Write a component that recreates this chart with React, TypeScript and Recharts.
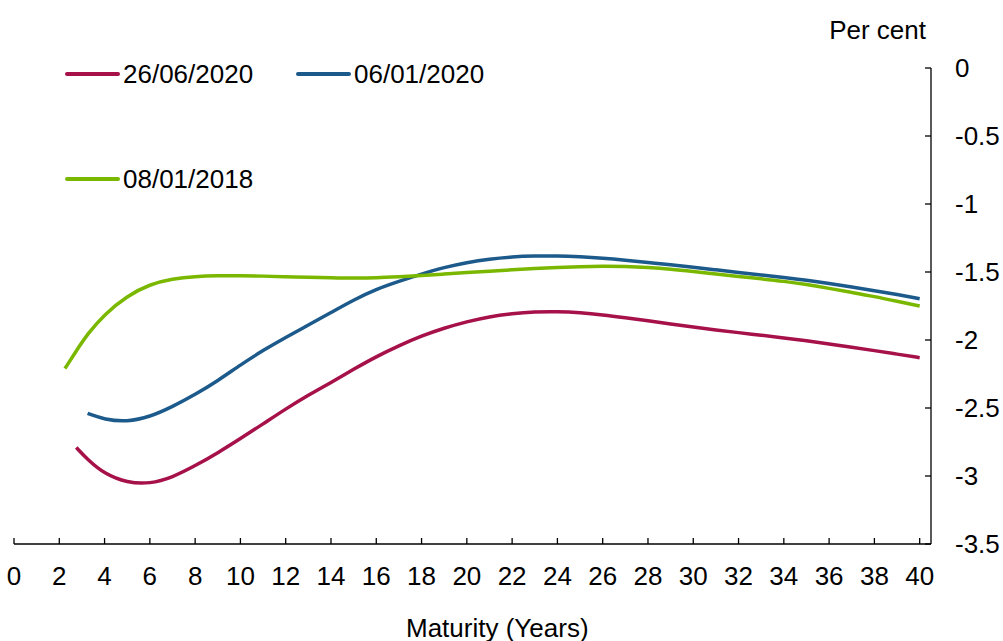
import { LineChart, Line, XAxis, YAxis, Legend } from "recharts"

const maturity = [
  2.25, 2.75, 3.25, 4, 5, 6, 7, 8, 9, 10, 11, 12, 13, 14, 15, 16, 17, 18, 19, 20,
  21, 22, 23, 24, 25, 26, 27, 28, 29, 30, 31, 32, 33, 34, 35, 36, 37, 38, 39, 40,
]

const jun2020 = [
  null, -2.79, -2.88, -2.985, -3.05, -3.058, -3.01, -2.925, -2.83, -2.725, -2.617,
  -2.507, -2.405, -2.313, -2.215, -2.122, -2.042, -1.97, -1.912, -1.865, -1.828,
  -1.805, -1.793, -1.791, -1.799, -1.815, -1.836, -1.858, -1.882, -1.905, -1.926,
  -1.946, -1.965, -1.985, -2.006, -2.029, -2.053, -2.078, -2.104, -2.13,
]

const jan2020 = [
  null, null, -2.54, -2.585, -2.602, -2.565, -2.49, -2.401, -2.3, -2.183, -2.076,
  -1.98, -1.89, -1.798, -1.705, -1.626, -1.568, -1.515, -1.466, -1.43, -1.404,
  -1.388, -1.382, -1.381, -1.388, -1.398, -1.413, -1.43, -1.447, -1.465, -1.484,
  -1.503, -1.522, -1.54, -1.56, -1.584, -1.61, -1.637, -1.665, -1.696,
]

const jan2018 = [
  -2.21, -2.08, -1.955, -1.81, -1.675, -1.59, -1.55, -1.532, -1.527, -1.527, -1.53,
  -1.535, -1.538, -1.542, -1.545, -1.543, -1.535, -1.527, -1.515, -1.504, -1.494,
  -1.484, -1.475, -1.466, -1.46, -1.457, -1.459, -1.466, -1.478, -1.496, -1.515,
  -1.533, -1.55, -1.568, -1.592, -1.62, -1.65, -1.68, -1.715, -1.75,
]

const xTicks = [0, 2, 4, 6, 8, 10, 12, 14, 16, 18, 20, 22, 24, 26, 28, 30, 32, 34, 36, 38, 40]
const yTicks = [0, -0.5, -1, -1.5, -2, -2.5, -3, -3.5]

const data = maturity.map((m, i) => ({
  maturity: m,
  jun2020: jun2020[i],
  jan2020: jan2020[i],
  jan2018: jan2018[i],
}))

const FONT = "'Liberation Sans', Arial, sans-serif"
const FS = 26

// where each legend entry sits: left edge of the swatch and row centre
const legendSpots: Record<string, { left: number; top: number }> = {
  "26/06/2020": { left: 65, top: 74 },
  "06/01/2020": { left: 296, top: 74 },
  "08/01/2018": { left: 65, top: 179 },
}

function LegendBox(props: any) {
  const items = props.payload || []
  return (
    <div style={{ position: "relative", width: 0, height: 0 }}>
      {items.map((it: any) => {
        const spot = legendSpots[it.value] || { left: 0, top: 0 }
        return (
          <div
            key={it.value}
            style={{
              position: "absolute",
              left: spot.left,
              top: spot.top - 15,
              height: 30,
              display: "flex",
              alignItems: "center",
              whiteSpace: "nowrap",
              fontFamily: FONT,
              fontSize: FS,
              color: "#000",
            }}
          >
            <span
              style={{
                display: "inline-block",
                width: 55,
                height: 3.5,
                borderRadius: 2,
                background: it.color,
                marginRight: 3,
              }}
            />
            {it.value}
          </div>
        )
      })}
    </div>
  )
}

export default function App() {
  return (
    <div style={{ position: "absolute", left: 0, top: 0, width: 1003, height: 641, background: "#fff", overflow: "hidden" }}>
      <LineChart
        width={1003}
        height={641}
        data={data}
        margin={{ top: 68, right: 0, bottom: 37, left: 14 }}
      >
        <XAxis
          dataKey="maturity"
          type="number"
          domain={[0, 40.5]}
          ticks={xTicks}
          interval={0}
          height={60}
          tickSize={-6}
          tickMargin={29}
          axisLine={{ stroke: "#000", strokeWidth: 1.3 }}
          tickLine={{ stroke: "#000", strokeWidth: 1.3 }}
          tick={{ fill: "#000", fontSize: FS, fontFamily: FONT }}
        />
        <YAxis
          orientation="right"
          type="number"
          domain={[-3.5, 0]}
          ticks={yTicks}
          interval={0}
          width={72}
          tickSize={-6}
          tickMargin={30}
          axisLine={{ stroke: "#000", strokeWidth: 1.3 }}
          tickLine={{ stroke: "#000", strokeWidth: 1.3 }}
          tick={{ fill: "#000", fontSize: FS, fontFamily: FONT }}
        />
        <Legend
          layout="horizontal"
          verticalAlign="middle"
          align="center"
          wrapperStyle={{ position: "absolute", left: 0, top: 0, width: 0, height: 0 }}
          content={LegendBox}
        />
        <Line
          name="26/06/2020"
          dataKey="jun2020"
          type="basis"
          stroke="#a6114a"
          strokeWidth={3.5}
          dot={false}
          activeDot={false}
          connectNulls
          isAnimationActive={false}
        />
        <Line
          name="06/01/2020"
          dataKey="jan2020"
          type="basis"
          stroke="#1c5a8b"
          strokeWidth={3.5}
          dot={false}
          activeDot={false}
          connectNulls
          isAnimationActive={false}
        />
        <Line
          name="08/01/2018"
          dataKey="jan2018"
          type="basis"
          stroke="#7ab800"
          strokeWidth={3.5}
          dot={false}
          activeDot={false}
          connectNulls
          isAnimationActive={false}
        />
      </LineChart>
      <div
        style={{
          position: "absolute",
          right: 1003 - 926,
          top: 12,
          fontFamily: FONT,
          fontSize: FS,
          whiteSpace: "nowrap",
          lineHeight: "36px",
        }}
      >
        Per cent
      </div>
      <div
        style={{
          position: "absolute",
          left: 406,
          top: 610,
          fontFamily: FONT,
          fontSize: FS,
          whiteSpace: "nowrap",
          lineHeight: "36px",
        }}
      >
        Maturity (Years)
      </div>
    </div>
  )
}
